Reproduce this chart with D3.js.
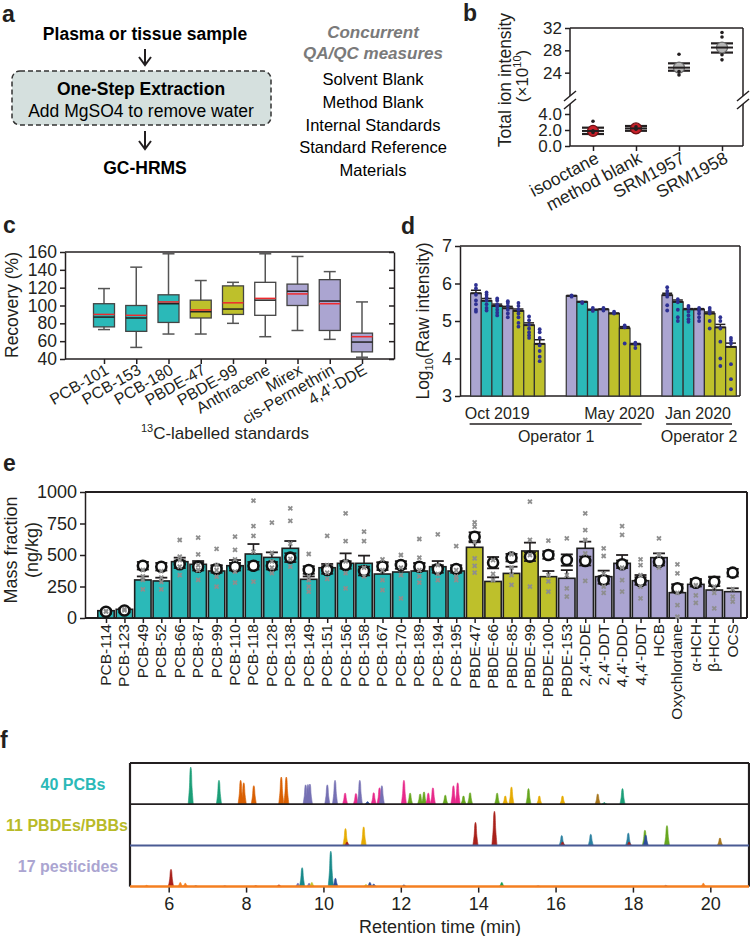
<!DOCTYPE html>
<html>
<head>
<meta charset="utf-8">
<script src="https://cdn.jsdelivr.net/npm/d3@7"></script>
<style>
  body { margin: 0; background: #fff; }
  svg { font-family: "Liberation Sans", Arial, Helvetica, sans-serif; }
</style>
</head>
<body>
<svg width="750" height="936"></svg>
<script>
// ---------- data: panel a
const workflowSteps = ["Plasma or tissue sample", "One-Step Extraction", "Add MgSO4 to remove water", "GC-HRMS"];
const qaqcTitle = ["Concurrent", "QA/QC measures"];
const qaqcItems = ["Solvent Blank", "Method Blank", "Internal Standards", "Standard Reference", "Materials"];

// ---------- data: panel b (total ion intensity, x1e10)
const tiSamples = ["isooctane", "method blank", "SRM1957", "SRM1958"];
const tiMean = [1.88, 2.2, 24.9, 28.5];
const tiLow = [1.5, 1.9, 24.35, 27.6];
const tiHigh = [2.29, 2.5, 25.67, 29.25];
const tiPoints = [[3.1, 1.7, 1.9], [2.4, 2.1], [27.3, 24.2, 23.6], [31.2, 30.4, 27.2, 26.3]];

// ---------- data: panel c (recovery %)
const stdNames = ["PCB-101", "PCB-153", "PCB-180", "PBDE-47", "PBDE-99", "Anthracene", "Mirex", "cis-Permethrin", "4,4'-DDE"];
const stdClass = ["PCB", "PCB", "PCB", "PBDE", "PBDE", "PAH", "OCP", "OCP", "OCP"];
const recMin = [73, 53, 68, 68, 80, 65, 72, 62, 42];
const recQ1 = [76, 71, 81, 86, 90, 89, 100, 72, 48];
const recMedian = [87, 86, 102, 93, 96, 106, 116, 105, 59];
const recQ3 = [102, 100, 112, 106, 122, 126, 124, 129, 69];
const recMax = [119, 143, 158, 128, 126, 158, 155, 138, 104];
const recMean = [90, 89, 104, 95, 103, 108, 113, 102, 65];

// ---------- data: panel d (log10 raw intensity of internal standards)
const runs = ["Oct 2019", "May 2020", "Jan 2020"];
const operators = ["Operator 1", "Operator 2"];
const isClass = ["OCP", "PCB", "PCB", "OCP", "PBDE", "PBDE", "PBDE"];
const logMean = [
  [5.74, 5.54, 5.40, 5.34, 5.27, 4.89, 4.39],
  [5.67, 5.51, 5.30, 5.31, 5.20, 4.81, 4.38],
  [5.69, 5.51, 5.31, 5.31, 5.20, 4.83, 4.31]
];
const logErr = [
  [0.08, 0.06, 0.05, 0.05, 0.05, 0.06, 0.11],
  [0.01, 0.01, 0.01, 0.01, 0.01, 0.04, 0.02],
  [0.05, 0.05, 0.02, 0.02, 0.04, 0.08, 0.1]
];
const logPoints = [
  [[5.96, 5.87, 5.7, 5.55, 5.45, 5.3, 5.25], [5.76, 5.7, 5.63, 5.55, 5.45, 5.35, 5.28], [5.6, 5.55, 5.45, 5.38, 5.3, 5.22, 5.15],
   [5.53, 5.48, 5.4, 5.3, 5.2, 5.1], [5.48, 5.4, 5.3, 5.2, 5.1, 4.95, 4.85], [5.12, 5.02, 4.9, 4.8, 4.7, 4.62, 4.55],
   [4.78, 4.7, 4.55, 4.35, 4.2, 4.05, 3.93]],
  [[5.68, 5.65], [5.5, 5.48], [5.35, 5.27], [5.35, 5.28], [5.25, 5.2], [4.88, 4.83, 4.4], [4.42, 4.38, 4.28]],
  [[5.9, 5.8, 5.72, 5.65, 5.42, 5.28], [5.58, 5.5, 5.3, 5.1, 5.0], [5.4, 5.35, 5.25, 5.15, 5.05, 4.98],
   [5.35, 5.28, 5.2, 5.1, 5.0], [5.35, 5.28, 5.2, 5.0, 4.8], [5.1, 5.0, 4.8, 4.45, 4.0, 3.8],
   [4.55, 4.48, 4.4, 3.85, 3.45, 3.18]]
];

// ---------- data: panel e (mass fraction, ng/kg)
const analytes = ["PCB-114", "PCB-123", "PCB-49", "PCB-52", "PCB-66", "PCB-87", "PCB-99", "PCB-110", "PCB-118", "PCB-128",
  "PCB-138", "PCB-149", "PCB-151", "PCB-156", "PCB-158", "PCB-167", "PCB-170", "PCB-189", "PCB-194", "PCB-195",
  "PBDE-47", "PBDE-66", "PBDE-85", "PBDE-99", "PBDE-100", "PBDE-153", "2,4'-DDE", "2,4'-DDT", "4,4'-DDD", "4,4'-DDT",
  "HCB", "Oxychlordane", "α-HCH", "β-HCH", "OCS"];
const analyteClass = ["PCB", "PCB", "PCB", "PCB", "PCB", "PCB", "PCB", "PCB", "PCB", "PCB",
  "PCB", "PCB", "PCB", "PCB", "PCB", "PCB", "PCB", "PCB", "PCB", "PCB",
  "PBDE", "PBDE", "PBDE", "PBDE", "PBDE", "OCP", "OCP", "OCP", "OCP", "OCP",
  "OCP", "OCP", "OCP", "OCP", "OCP"];
const massMean = [58, 69, 302, 294, 447, 426, 373, 415, 508, 481, 553, 307, 399, 434, 434, 349, 365, 373, 407, 373,
  561, 290, 354, 532, 328, 315, 553, 328, 434, 296, 479, 201, 267, 222, 209];
const massErr = [8, 8, 28, 26, 32, 26, 42, 45, 79, 40, 58, 23, 30, 79, 61, 93, 55, 61, 45, 16,
  40, 33, 53, 66, 45, 65, 53, 48, 66, 45, 34, 66, 35, 106, 27];
const refValue = [50, 60, 415, 407, 426, 407, 389, 407, 415, 415, 479, 381, 381, 421, 373, 410, 421, 407, 389, 389,
  645, 439, 479, 487, 500, 460, 452, 302, 426, 294, 447, 236, 280, 288, 360];
const refUnc = [15, 15, 30, 30, 30, 30, 30, 30, 30, 30, 35, 30, 30, 30, 35, 30, 30, 30, 30, 30,
  35, 45, 30, 35, 30, 45, 35, 30, 30, 30, 30, 30, 30, 35, 30];
const massPoints = [[50, 55], [60, 70], [381, 302, 228, 330], [372, 286, 228, 320], [619, 487, 407, 341, 460],
  [637, 505, 381, 302, 420], [548, 420, 328, 249, 380], [645, 540, 466, 368, 280], [931, 730, 651, 526, 288],
  [757, 516, 450, 357, 400], [870, 770, 590, 470, 407], [508, 328, 249, 209, 300], [651, 420, 310, 360],
  [831, 611, 357, 236, 450], [685, 611, 400, 330], [466, 380, 300, 222], [500, 400, 340, 156],
  [627, 479, 380, 330, 280], [664, 420, 350, 300], [571, 380, 330, 300], [759, 725, 600, 474, 413, 360],
  [460, 350, 300], [505, 400, 340, 262], [923, 620, 500, 249], [614, 340, 290, 209], [632, 340, 236, 169],
  [831, 698, 619, 513, 294], [553, 492, 354, 249, 200], [730, 659, 400, 300, 209], [466, 420, 340, 249, 156],
  [632, 500, 400], [426, 354, 200, 103, 10], [260, 180, 120], [249, 200, 77], [230, 170, 130]];

// ---------- data: panel f (chromatogram peaks: retention time, relative height, compound colour index)
const traceNames = ["40 PCBs", "11 PBDEs/PBBs", "17 pesticides"];
const timeTicks = [6, 8, 10, 12, 14, 16, 18, 20];
const pcbPeaks = [[6.57, 90, 0], [7.30, 58, 0], [7.86, 58, 1], [7.94, 52, 1], [8.20, 45, 1], [8.91, 66, 1], [9.04, 66, 1],
  [9.54, 47, 2], [9.60, 48, 2], [9.65, 49, 2], [10.10, 47, 2], [10.30, 58, 2], [10.56, 27, 3], [10.84, 26, 3],
  [10.94, 58, 2], [11.14, 6, 10], [11.30, 28, 3], [11.45, 40, 3], [11.51, 45, 2], [12.08, 58, 3], [12.24, 27, 4],
  [12.50, 25, 4], [12.60, 30, 4], [12.71, 27, 3], [12.83, 40, 3], [13.15, 22, 4], [13.36, 45, 3], [13.47, 52, 3],
  [13.62, 20, 4], [13.79, 28, 4], [14.49, 27, 4], [14.70, 20, 5], [14.86, 42, 5], [15.30, 38, 4], [15.58, 20, 5],
  [16.18, 20, 5], [17.09, 25, 6], [17.26, 4, 0], [17.73, 38, 0]];
const pbdePeaks = [[10.57, 41, 5], [10.61, 8, 7], [11.04, 45, 5], [13.93, 56, 7], [14.42, 83, 7], [16.16, 24, 8],
  [16.18, 8, 7], [16.91, 27, 8], [17.88, 30, 8], [17.90, 8, 7], [18.31, 37, 4], [18.33, 25, 10], [18.88, 48, 4], [20.25, 18, 6]];
const pestPeaks = [[5.43, 3, 11], [6.04, 10, 11], [6.06, 42, 7], [6.30, 10, 11], [6.43, 8, 11], [6.70, 2, 10], [7.45, 2, 2],
  [8.25, 2, 7], [8.85, 4, 7], [9.34, 8, 2], [9.45, 46, 9], [9.63, 8, 2], [9.70, 10, 12], [10.19, 86, 9], [10.31, 20, 10],
  [11.10, 5, 12], [11.20, 10, 10], [11.30, 6, 10], [12.08, 4, 10], [14.61, 10, 13], [15.55, 2, 2], [18.85, 3, 2], [19.82, 8, 11]];

// ---------- styles
const ink = "#231f20";
const classColor = { PCB: "#2bb9b8", PBDE: "#bec02b", OCP: "#aba5d1", PAH: "#ffffff" };
const peakColor = ["#1b9e77", "#d95f02", "#7570b3", "#e7298a", "#66a61e", "#e6ab02", "#a6761d", "#a8201a",
  "#2a7fa0", "#17898a", "#2b4c9b", "#f47f20", "#c4c530", "#1a9e50"];

const svg = d3.select("svg");

function panelLetter(t, x, y) {
  svg.append("text").attr("x", x).attr("y", y).attr("font-size", 23).attr("font-weight", "bold").attr("fill", ink).text(t);
}
function styleAxis(g, size) {
  g.attr("font-family", null).attr("font-size", size);
  g.selectAll("path, line").attr("stroke", ink).attr("stroke-width", 1.5);
  g.selectAll("text").attr("fill", ink);
}
function hline(g, x1, x2, y, w) {
  g.append("line").attr("x1", x1).attr("x2", x2).attr("y1", y).attr("y2", y).attr("stroke", ink).attr("stroke-width", w || 1.5);
}
function vline(g, x, y1, y2, w) {
  g.append("line").attr("x1", x).attr("x2", x).attr("y1", y1).attr("y2", y2).attr("stroke", ink).attr("stroke-width", w || 1.5);
}

// =============== panel a
panelLetter("a", 2, 22);
const ga = svg.append("g");
function arrow(x, y1, y2) {
  vline(ga, x, y1, y2, 2);
  ga.append("path").attr("d", `M${x - 6},${y2 - 8}L${x},${y2}L${x + 6},${y2 - 8}`)
    .attr("fill", "none").attr("stroke", ink).attr("stroke-width", 2);
}
ga.append("text").attr("x", 145).attr("y", 40).attr("text-anchor", "middle").attr("font-size", 17.5)
  .attr("font-weight", "bold").text(workflowSteps[0]);
arrow(145, 49, 65);
ga.append("rect").attr("x", 12).attr("y", 71).attr("width", 259).attr("height", 54).attr("rx", 8)
  .attr("fill", "#d5e0de").attr("stroke", "#333").attr("stroke-width", 1.5).attr("stroke-dasharray", "5,3");
ga.append("text").attr("x", 141).attr("y", 95).attr("text-anchor", "middle").attr("font-size", 17.5)
  .attr("font-weight", "bold").text(workflowSteps[1]);
ga.append("text").attr("x", 141).attr("y", 117).attr("text-anchor", "middle").attr("font-size", 17.5).text(workflowSteps[2]);
arrow(145, 131, 149);
ga.append("text").attr("x", 145).attr("y", 174).attr("text-anchor", "middle").attr("font-size", 17.5)
  .attr("font-weight", "bold").text(workflowSteps[3]);
qaqcTitle.forEach((t, i) => {
  ga.append("text").attr("x", 373).attr("y", 38 + i * 21).attr("text-anchor", "middle").attr("font-size", 17)
    .attr("font-weight", "bold").attr("font-style", "italic").attr("fill", "#7a7a7a").text(t);
});
qaqcItems.forEach((t, i) => {
  ga.append("text").attr("x", 373).attr("y", 85 + i * 22.8).attr("text-anchor", "middle").attr("font-size", 16.5).text(t);
});

// =============== panel b
panelLetter("b", 463, 21);
const gb = svg.append("g");
const bx = d3.scalePoint().domain(tiSamples).range([593, 722]);
const byLow = d3.scaleLinear().domain([0, 5]).range([146, 106]);
const byHigh = d3.scaleLinear().domain([20, 32]).range([95, 28]);
const by = v => (v < 12 ? byLow(v) : byHigh(v));
const bL = 570, bR = 743;

const bAxLow = gb.append("g").attr("transform", `translate(${bL},0)`)
  .call(d3.axisLeft(byLow).tickValues([0, 2, 4]).tickFormat(d3.format(".1f")).tickSize(5));
const bAxHigh = gb.append("g").attr("transform", `translate(${bL},0)`)
  .call(d3.axisLeft(byHigh).tickValues([24, 28, 32]).tickSize(5));
const bAxX = gb.append("g").attr("transform", "translate(0,146)").call(d3.axisBottom(bx).tickFormat("").tickSize(5));
[bAxLow, bAxHigh, bAxX].forEach(g => { g.select(".domain").remove(); styleAxis(g, 17); });
// frame with axis breaks
vline(gb, bL, 28, 96); vline(gb, bL, 104, 146);
vline(gb, bR, 28, 96); vline(gb, bR, 104, 146);
hline(gb, bL, bR, 28); hline(gb, bL, bR, 146);
[bL, bR].forEach(x => {
  [96, 104].forEach(y => {
    gb.append("line").attr("x1", x - 6).attr("x2", x + 6).attr("y1", y + 5).attr("y2", y - 5)
      .attr("stroke", ink).attr("stroke-width", 1.5);
  });
});
tiSamples.forEach((s, i) => {
  const x = bx(s);
  vline(gb, x, by(tiLow[i]), by(tiHigh[i]), 2);
  hline(gb, x - 11, x + 11, by(tiLow[i]), 2.2);
  hline(gb, x - 11, x + 11, by(tiHigh[i]), 2.2);
  const red = i < 2;
  gb.append("circle").attr("cx", x).attr("cy", by(tiMean[i])).attr("r", 5.5)
    .attr("fill", red ? "#c8202a" : "#b5b5b5").attr("stroke", red ? "#6d1014" : "#6a6a6a").attr("stroke-width", 1.2);
  hline(gb, x - 11, x + 11, by(tiMean[i]), 2);
  gb.selectAll(null).data(tiPoints[i]).join("circle")
    .attr("cx", x).attr("cy", d => by(d)).attr("r", 1.8).attr("fill", ink);
});
gb.selectAll(".bxl").data(tiSamples).join("text")
  .attr("transform", d => `translate(${bx(d) + 7},162) rotate(-28)`)
  .attr("text-anchor", "end").attr("font-size", 17.5).attr("fill", ink).text(d => d);
gb.append("text").attr("transform", "translate(511,80) rotate(-90)").attr("text-anchor", "middle")
  .attr("font-size", 17.5).attr("fill", ink).text("Total ion intensity");
const bUnit = gb.append("text").attr("transform", "translate(528,76) rotate(-90)").attr("text-anchor", "middle")
  .attr("font-size", 17).attr("fill", ink);
bUnit.append("tspan").text("(×10");
bUnit.append("tspan").attr("dy", -7).attr("font-size", 11).text("10");
bUnit.append("tspan").attr("dy", 7).text(")");

// =============== panel c
panelLetter("c", 3, 233);
const gc = svg.append("g");
const cx = d3.scalePoint().domain(stdNames).range([104, 362]);
const cy = d3.scaleLinear().domain([40, 160]).range([359, 252]);
const cL = 65, cR = 394;
const cAxY = gc.append("g").attr("transform", `translate(${cL},0)`)
  .call(d3.axisLeft(cy).tickValues(d3.range(40, 161, 20)).tickSize(5).tickSizeOuter(0));
styleAxis(cAxY, 17.5);
const cAxR = gc.append("g").attr("transform", `translate(${cR},0)`)
  .call(d3.axisLeft(cy).tickValues(d3.range(40, 161, 20)).tickFormat("").tickSize(5).tickSizeOuter(0));
styleAxis(cAxR, 10);
const cAxX = gc.append("g").attr("transform", "translate(0,359)").call(d3.axisBottom(cx).tickFormat("").tickSize(5));
cAxX.select(".domain").remove();
styleAxis(cAxX, 10);
hline(gc, cL, cR, 359); hline(gc, cL, cR, 252);
const cw = 21;
stdNames.forEach((n, i) => {
  const x = cx(n);
  gc.append("line").attr("x1", x).attr("x2", x).attr("y1", cy(recMin[i])).attr("y2", cy(recMax[i]))
    .attr("stroke", "#555").attr("stroke-width", 1.5);
  [recMin[i], recMax[i]].forEach(v => {
    gc.append("line").attr("x1", x - 6).attr("x2", x + 6).attr("y1", cy(v)).attr("y2", cy(v))
      .attr("stroke", "#555").attr("stroke-width", 1.5);
  });
  gc.append("rect").attr("x", x - cw / 2).attr("y", cy(recQ3[i])).attr("width", cw)
    .attr("height", cy(recQ1[i]) - cy(recQ3[i])).attr("fill", classColor[stdClass[i]])
    .attr("stroke", "#444").attr("stroke-width", 1.3);
  gc.append("line").attr("x1", x - cw / 2).attr("x2", x + cw / 2).attr("y1", cy(recMedian[i])).attr("y2", cy(recMedian[i]))
    .attr("stroke", "#222").attr("stroke-width", 1.5);
  gc.append("line").attr("x1", x - cw / 2).attr("x2", x + cw / 2).attr("y1", cy(recMean[i])).attr("y2", cy(recMean[i]))
    .attr("stroke", "#ee2a2e").attr("stroke-width", 1.5);
});
gc.selectAll(".cxl").data(stdNames).join("text")
  .attr("transform", d => `translate(${cx(d) + 6},373) rotate(-30)`)
  .attr("text-anchor", "end").attr("font-size", 16).attr("fill", ink).text(d => d);
gc.append("text").attr("transform", "translate(18,305) rotate(-90)").attr("text-anchor", "middle")
  .attr("font-size", 17.5).attr("fill", ink).text("Recovery (%)");
const cTitle = gc.append("text").attr("x", 225).attr("y", 439).attr("text-anchor", "middle").attr("font-size", 17).attr("fill", ink);
cTitle.append("tspan").attr("font-size", 11).attr("dy", -7).text("13");
cTitle.append("tspan").attr("dy", 7).text("C-labelled standards");

// =============== panel d
panelLetter("d", 401, 234);
const gd = svg.append("g");
const dx = d3.scaleLinear().domain([-1, 25.35]).range([460, 740]);
const dy = d3.scaleLinear().domain([3, 7]).range([396, 246]);
const dbw = dx(1) - dx(0);
const dL = 460, dR = 740;
const dAxY = gd.append("g").attr("transform", `translate(${dL},0)`)
  .call(d3.axisLeft(dy).ticks(4).tickFormat(d3.format("d")).tickSize(5).tickSizeOuter(0));
styleAxis(dAxY, 18);
hline(gd, dL, dR, 246); hline(gd, dL, dR, 396); vline(gd, dR, 246, 396);
const dBars = [];
runs.forEach((r, g) => logMean[g].forEach((m, j) => {
  dBars.push({ slot: g * 9 + j, mean: m, err: logErr[g][j], cls: isClass[j], pts: logPoints[g][j] });
}));
gd.selectAll(".dbar").data(dBars).join("rect")
  .attr("x", d => dx(d.slot)).attr("y", d => dy(d.mean)).attr("width", dbw).attr("height", d => dy(3) - dy(d.mean))
  .attr("fill", d => classColor[d.cls]).attr("stroke", "#333").attr("stroke-width", 1.2);
dBars.forEach(d => {
  const xc = dx(d.slot) + dbw / 2;
  vline(gd, xc, dy(d.mean), dy(d.mean + d.err), 1.5);
  hline(gd, xc - 5, xc + 5, dy(d.mean + d.err), 1.5);
  hline(gd, dx(d.slot), dx(d.slot) + dbw, dy(d.mean), 2);
  gd.selectAll(null).data(d.pts).join("circle").attr("cx", xc).attr("cy", v => dy(v)).attr("r", 1.9).attr("fill", "#2e3192");
});
const runLabelSlot = [2.5, 14, 21.4];
runs.forEach((r, g) => {
  gd.append("text").attr("x", dx(runLabelSlot[g])).attr("y", 419).attr("text-anchor", "middle").attr("font-size", 16)
    .attr("fill", ink).text(r);
});
hline(gd, dx(0) - 1, dx(16.1), 424, 1.5);
hline(gd, dx(18.4), dx(24.6), 424, 1.5);
gd.append("text").attr("x", (dx(0) + dx(16.1)) / 2).attr("y", 442).attr("text-anchor", "middle").attr("font-size", 16)
  .attr("fill", ink).text(operators[0]);
gd.append("text").attr("x", (dx(18.4) + dx(24.6)) / 2).attr("y", 442).attr("text-anchor", "middle").attr("font-size", 16)
  .attr("fill", ink).text(operators[1]);
const dTitle = gd.append("text").attr("transform", "translate(429,321) rotate(-90)").attr("text-anchor", "middle")
  .attr("font-size", 17.5).attr("fill", ink);
dTitle.append("tspan").text("Log");
dTitle.append("tspan").attr("dy", 4).attr("font-size", 11).text("10");
dTitle.append("tspan").attr("dy", -4).text("(Raw intensity)");

// =============== panel e
panelLetter("e", 3, 471);
const ge = svg.append("g");
const ex = d3.scalePoint().domain(analytes).range([106, 732.7]);
const ey = d3.scaleLinear().domain([0, 1000]).range([618, 492]);
const eL = 85, eR = 747, ebw = 16.4;
const eAxY = ge.append("g").attr("transform", `translate(${eL},0)`)
  .call(d3.axisLeft(ey).tickValues([0, 250, 500, 750, 1000]).tickFormat(d3.format("d")).tickSize(5).tickSizeOuter(0));
styleAxis(eAxY, 18);
const eAxX = ge.append("g").attr("transform", "translate(0,618)").call(d3.axisBottom(ex).tickFormat("").tickSize(5));
eAxX.select(".domain").remove();
styleAxis(eAxX, 10);
hline(ge, eL, eR, 618, 2); hline(ge, eL, eR, 492, 2); vline(ge, eR, 492, 618, 2);
ge.selectAll(".ebar").data(analytes).join("rect")
  .attr("x", d => ex(d) - ebw / 2).attr("y", (d, i) => ey(massMean[i])).attr("width", ebw)
  .attr("height", (d, i) => ey(0) - ey(massMean[i]))
  .attr("fill", (d, i) => classColor[analyteClass[i]]).attr("stroke", "#1e1e1e").attr("stroke-width", 1.6);
analytes.forEach((a, i) => {
  const x = ex(a);
  vline(ge, x, ey(massMean[i]), ey(massMean[i] + massErr[i]), 1.6);
  hline(ge, x - 6, x + 6, ey(massMean[i] + massErr[i]), 1.8);
  const ry = ey(refValue[i]);
  hline(ge, x - 6, x + 6, ey(refValue[i] + refUnc[i]), 1.8);
  hline(ge, x - 6, x + 6, ey(refValue[i] - refUnc[i]), 1.8);
  ge.append("circle").attr("cx", x).attr("cy", ry).attr("r", 5).attr("fill", "#fff").attr("stroke", "#111").attr("stroke-width", 2.6);
  massPoints[i].forEach(v => {
    const py = ey(v);
    ge.append("path").attr("d", `M${x - 2},${py - 2}L${x + 2},${py + 2}M${x - 2},${py + 2}L${x + 2},${py - 2}`)
      .attr("stroke", "#8e8e8e").attr("stroke-width", 1.8);
  });
});
ge.selectAll(".exl").data(analytes).join("text")
  .attr("transform", d => `translate(${ex(d) + 5},624) rotate(-90)`)
  .attr("text-anchor", "end").attr("font-size", 15.5).attr("fill", ink).text(d => d);
ge.append("text").attr("transform", "translate(17,550) rotate(-90)").attr("text-anchor", "middle")
  .attr("font-size", 18).attr("fill", ink).text("Mass fraction");
ge.append("text").attr("transform", "translate(38,550) rotate(-90)").attr("text-anchor", "middle")
  .attr("font-size", 18).attr("fill", ink).text("(ng/kg)");

// =============== panel f
panelLetter("f", 0, 748);
const gf = svg.append("g");
const fx = d3.scaleLinear().domain([5, 21]).range([130, 749]);
const rowTop = 763, rowH = 41.2;
const fh = d3.scaleLinear().domain([0, 100]).range([0, rowH]);
const labelColor = [classColor.PCB, "#b8ba28", classColor.OCP];
const traces = [pcbPeaks, pbdePeaks, pestPeaks];
const peakShape = [[-2.6, 0], [-1.3, 0.45], [-0.5, 0.95], [0, 1], [0.5, 0.95], [1.3, 0.45], [2.6, 0]];
const peakLine = d3.line().curve(d3.curveCatmullRom);
traces.forEach((peaks, r) => {
  const base = rowTop + (r + 1) * rowH;
  peaks.forEach(p => {
    const x = fx(p[0]), h = fh(p[1]);
    gf.append("path").attr("d", peakLine(peakShape.map(s => [x + s[0], base - s[1] * h])) + "Z")
      .attr("fill", peakColor[p[2]]).attr("stroke", peakColor[p[2]]).attr("stroke-width", 0.6);
  });
  gf.append("text").attr("x", [73, 67, 68][r]).attr("y", base - rowH / 2 + 6).attr("text-anchor", "middle")
    .attr("font-size", 16).attr("font-weight", "bold").attr("fill", labelColor[r]).text(traceNames[r]);
});
hline(gf, 130, 749, rowTop, 2.2);
vline(gf, 130, rowTop, rowTop + 3 * rowH, 2.2);
vline(gf, 749, rowTop, rowTop + 3 * rowH, 2.2);
hline(gf, 130, 749, rowTop + rowH, 1.8);
gf.append("line").attr("x1", 130).attr("x2", 749).attr("y1", rowTop + 2 * rowH).attr("y2", rowTop + 2 * rowH)
  .attr("stroke", "#4a5b93").attr("stroke-width", 2);
gf.append("line").attr("x1", 130).attr("x2", 749).attr("y1", rowTop + 3 * rowH).attr("y2", rowTop + 3 * rowH)
  .attr("stroke", "#f47f20").attr("stroke-width", 2.5);
const fAx = gf.append("g").attr("transform", `translate(0,${rowTop + 3 * rowH + 1})`)
  .call(d3.axisBottom(fx).tickValues(timeTicks).tickSize(5).tickPadding(5));
fAx.select(".domain").remove();
styleAxis(fAx, 18);
gf.append("text").attr("x", 440).attr("y", 933).attr("text-anchor", "middle").attr("font-size", 18).attr("fill", ink)
  .text("Retention time (min)");
</script>
</body>
</html>
